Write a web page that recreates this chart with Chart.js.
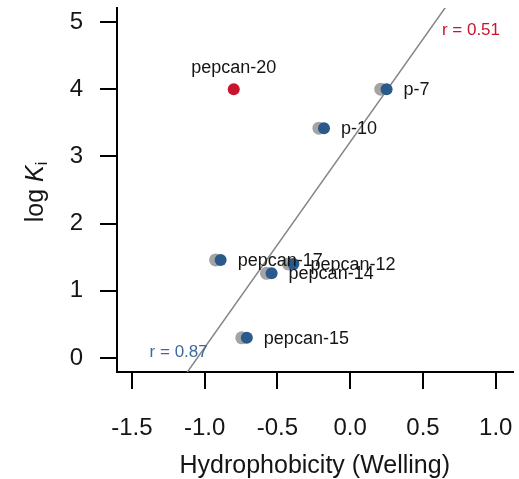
<!DOCTYPE html>
<html>
<head>
<meta charset="utf-8">
<script src="https://cdn.jsdelivr.net/npm/chart.js@4"></script>
<style>
  html, body { margin: 0; padding: 0; background: #fff; }
  #wrap { width: 519px; height: 479px; }
</style>
</head>
<body>
<div id="wrap"><canvas id="chart"></canvas></div>
<script>
// Data
const peptides = ['p-7', 'p-10', 'pepcan-17', 'pepcan-12', 'pepcan-14', 'pepcan-15'];
const hydroBlue = [0.25, -0.18, -0.89, -0.39, -0.54, -0.71];
const hydroGray = [0.21, -0.215, -0.925, -0.425, -0.575, -0.745];
const logKi = [4.0, 3.42, 1.46, 1.40, 1.26, 0.30];

const outlierName = 'pepcan-20';
const outlierX = [-0.8];
const outlierY = [4.0];

// fitted line (r = 0.87)
const fitSlope = 3.06;
const fitIntercept = 3.215;

const xTicks = [-1.5, -1.0, -0.5, 0.0, 0.5, 1.0];
const yTicks = [0, 1, 2, 3, 4, 5];
const xMin = -1.602, xMax = 1.115;
const yMin = -0.208, yMax = 5.208;

const BLUE = '#2a5a8c';
const GRAY = '#a4a4a4';
const RED = '#c8142c';
const INK = '#151515';
const FONT = '"Liberation Sans", Arial, sans-serif';

const textPlugin = {
  id: 'texts',
  afterDatasetsDraw(chart) {
    const ctx = chart.ctx;
    const xs = chart.scales.x, ys = chart.scales.y;
    ctx.save();
    // point labels
    ctx.font = '18px ' + FONT;
    ctx.fillStyle = INK;
    ctx.textBaseline = 'middle';
    ctx.textAlign = 'left';
    peptides.forEach((name, i) => {
      ctx.fillText(name, xs.getPixelForValue(hydroBlue[i]) + 17, ys.getPixelForValue(logKi[i]) + 1);
    });
    ctx.textAlign = 'center';
    ctx.fillText(outlierName, xs.getPixelForValue(outlierX[0]), ys.getPixelForValue(outlierY[0]) - 21);

    // correlation notes
    ctx.font = '17px ' + FONT;
    ctx.textAlign = 'left';
    ctx.fillStyle = RED;
    ctx.fillText('r = 0.51', xs.getPixelForValue(0.63), ys.getPixelForValue(4.88));
    ctx.fillStyle = '#3e6a99';
    ctx.fillText('r = 0.87', xs.getPixelForValue(-1.378), ys.getPixelForValue(0.09));
    ctx.restore();
  },
  afterDraw(chart) {
    // y axis title: log K_i
    const ctx = chart.ctx;
    ctx.save();
    ctx.translate(36, 192);
    ctx.rotate(-Math.PI / 2);
    ctx.fillStyle = INK;
    ctx.textBaseline = 'middle';
    ctx.textAlign = 'left';
    ctx.font = '25px ' + FONT;
    const w1 = ctx.measureText('log ').width;
    ctx.font = 'italic 25px ' + FONT;
    const w2 = ctx.measureText('K').width;
    ctx.font = '16px ' + FONT;
    const w3 = ctx.measureText('i').width;
    let x = -(w1 + w2 + w3) / 2;
    ctx.font = '25px ' + FONT;
    ctx.fillText('log ', x, 0);
    x += w1;
    ctx.font = 'italic 25px ' + FONT;
    ctx.fillText('K', x, 0);
    x += w2;
    ctx.font = '16px ' + FONT;
    ctx.fillText('i', x, 7);
    ctx.restore();
  }
};

// Chart.js paints the first dataset on top, so the list runs front to back
new Chart(document.getElementById('chart').getContext('2d'), {
  type: 'scatter',
  data: {
    datasets: [
      {
        label: 'outlier',
        data: outlierX.map((x, i) => ({ x: x, y: outlierY[i] })),
        backgroundColor: RED,
        borderWidth: 0,
        pointRadius: 6
      },
      {
        label: 'blue',
        data: hydroBlue.map((x, i) => ({ x: x, y: logKi[i] })),
        backgroundColor: BLUE,
        borderWidth: 0,
        pointRadius: 6
      },
      {
        type: 'line',
        label: 'fit',
        data: [xMin, xMax].map(x => ({ x: x, y: fitSlope * x + fitIntercept })),
        borderColor: '#858585',
        borderWidth: 1.5,
        pointRadius: 0,
        fill: false
      },
      {
        label: 'gray',
        data: hydroGray.map((x, i) => ({ x: x, y: logKi[i] })),
        backgroundColor: GRAY,
        borderWidth: 0,
        pointRadius: 6.5
      }
    ]
  },
  options: {
    responsive: true,
    maintainAspectRatio: false,
    animation: false,
    layout: { padding: { left: 0, top: 8, right: 2, bottom: 0 } },
    plugins: {
      legend: { display: false },
      tooltip: { enabled: false }
    },
    scales: {
      x: {
        type: 'linear',
        min: xMin,
        max: xMax,
        afterBuildTicks: s => { s.ticks = xTicks.map(v => ({ value: v })); },
        afterFit: s => {
          s.height = 107;
          s.paddingLeft = 0;
          s.paddingRight = 0;
        },
        border: { display: true, color: '#000', width: 2 },
        grid: { drawOnChartArea: false, drawTicks: true, tickLength: 17, color: '#000', lineWidth: 2 },
        ticks: {
          color: INK,
          font: { family: FONT, size: 24 },
          padding: 25,
          maxRotation: 0,
          callback: v => v.toFixed(1)
        },
        title: {
          display: true,
          text: 'Hydrophobicity (Welling)',
          color: INK,
          font: { family: FONT, size: 25 },
          padding: { top: 0, bottom: -2 }
        }
      },
      y: {
        type: 'linear',
        min: yMin,
        max: yMax,
        afterBuildTicks: s => { s.ticks = yTicks.map(v => ({ value: v })); },
        afterFit: s => {
          s.width = 117;
          s.paddingTop = 0;
          s.paddingBottom = 0;
        },
        border: { display: true, color: '#000', width: 2 },
        grid: { drawOnChartArea: false, drawTicks: true, tickLength: 17, color: '#000', lineWidth: 2 },
        ticks: {
          color: INK,
          font: { family: FONT, size: 24 },
          padding: 17,
          callback: v => String(v)
        }
      }
    }
  },
  plugins: [textPlugin]
});
</script>
</body>
</html>
